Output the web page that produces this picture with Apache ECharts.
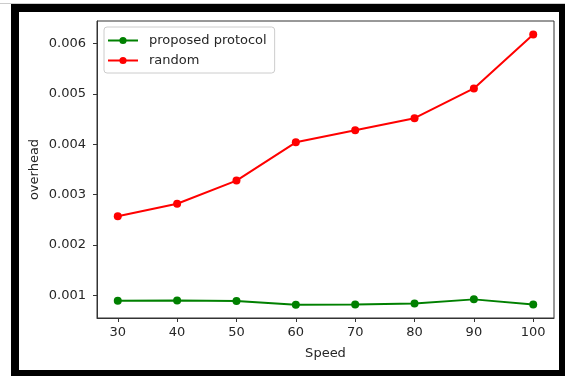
<!DOCTYPE html>
<html>
<head>
<meta charset="utf-8">
<script src="https://cdn.jsdelivr.net/npm/echarts@6/dist/echarts.min.js"></script>
<style>
  body { margin: 0; background: #fff; }
  #topline { position: absolute; left: 0; top: 3px; width: 565px; height: 1px; background: #ccc; }
  #frame { position: absolute; left: 11px; top: 4px; width: 554px; height: 372px; box-sizing: border-box;
           border-style: solid; border-color: #000; border-width: 8px 6px 6px 8px; }
  #main { position: absolute; left: 0; top: 0; width: 565px; height: 376px; }
</style>
</head>
<body>
<div id="topline"></div>
<div id="frame"></div>
<div id="main"></div>
<script>
// 数据
var speeds = [30, 40, 50, 60, 70, 80, 90, 100];
var proposed = [0.000893, 0.000897, 0.00089, 0.000814, 0.00082, 0.00084, 0.00092, 0.00082];
var randomVals = [0.00257, 0.00282, 0.00328, 0.00404, 0.00428, 0.00452, 0.00511, 0.00618];
var yTicks = [0.001, 0.002, 0.003, 0.004, 0.005, 0.006];
var xTicks = [30, 40, 50, 60, 70, 80, 90, 100];

var myChart = echarts.init(document.getElementById('main'));

function pairs(vals) {
    return speeds.map(function (s, i) { return [s, vals[i]]; });
}

var font = 'DejaVu Sans';
var txt = '#262626';
var fs = 13;

var option = {
    animation: false,
    textStyle: { fontFamily: font },
    grid: {
        left: 97, top: 21, right: 11, bottom: 58,
        show: true, borderColor: '#333', borderWidth: 1
    },
    legend: {
        orient: 'vertical',
        left: 104, top: 27,
        itemWidth: 30, itemHeight: 9, itemGap: 7,
        padding: [7, 8, 6, 3],
        borderColor: '#ccc', borderWidth: 1, borderRadius: 3,
        backgroundColor: '#fff',
        textStyle: { fontFamily: font, fontSize: fs, color: txt, padding: [0, 0, 0, 6] },
        data: ['proposed protocol', 'random']
    },
    xAxis: {
        type: 'value',
        min: 26.5, max: 103.5,
        name: 'Speed', nameLocation: 'middle', nameGap: 29, nameMoveOverlap: false,
        nameTextStyle: { fontFamily: font, fontSize: fs, color: txt },
        splitLine: { show: false },
        axisLine: { show: true, lineStyle: { color: '#333' } },
        axisTick: { show: true, length: 4, customValues: xTicks, lineStyle: { color: '#333' } },
        axisLabel: { customValues: xTicks, margin: 8, fontSize: fs, color: txt, fontFamily: font }
    },
    yAxis: {
        type: 'value',
        min: 0.00055, max: 0.00645,
        name: 'overhead', nameLocation: 'middle', nameGap: 56, nameMoveOverlap: false,
        nameTextStyle: { fontFamily: font, fontSize: fs, color: txt },
        splitLine: { show: false },
        axisLine: { show: true, lineStyle: { color: '#333' } },
        axisTick: { show: true, length: 4, customValues: yTicks, lineStyle: { color: '#333' } },
        axisLabel: {
            customValues: yTicks, margin: 11, fontSize: fs, color: txt, fontFamily: font,
            formatter: function (v) { return v.toFixed(3); }
        }
    },
    series: [
        {
            name: 'proposed protocol',
            type: 'line',
            data: pairs(proposed),
            symbol: 'circle', symbolSize: 8,
            lineStyle: { color: '#008000', width: 2 },
            itemStyle: { color: '#008000' }
        },
        {
            name: 'random',
            type: 'line',
            data: pairs(randomVals),
            symbol: 'circle', symbolSize: 8,
            lineStyle: { color: '#ff0000', width: 2 },
            itemStyle: { color: '#ff0000' }
        }
    ]
};

myChart.setOption(option);
</script>
</body>
</html>
